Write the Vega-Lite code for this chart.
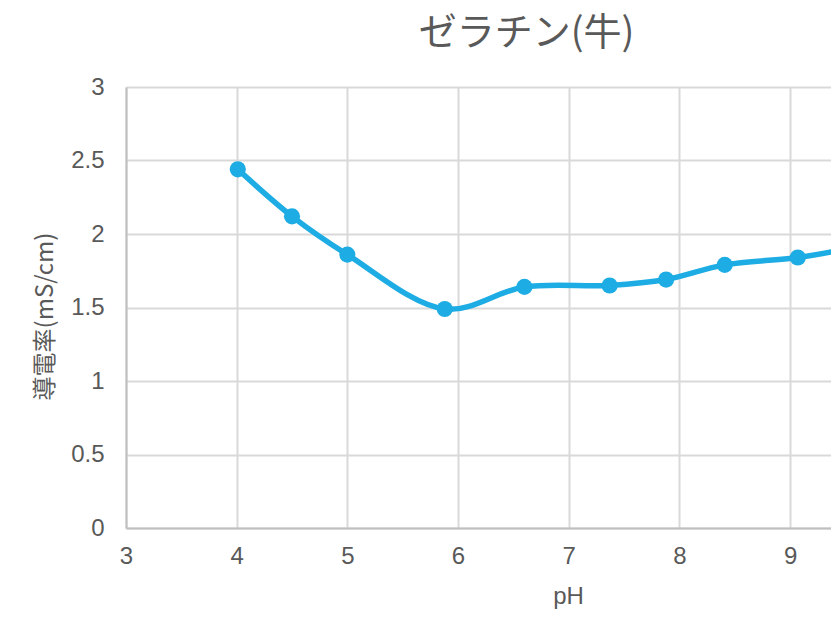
{
  "$schema": "https://vega.github.io/schema/vega-lite/v6.json",
  "width": 705,
  "height": 441,
  "autosize": "none",
  "padding": {"left": 126, "top": 87, "right": 0, "bottom": 89},
  "background": "white",
  "title": {
    "text": "ゼラチン(牛)",
    "font": "Noto Sans CJK JP",
    "fontSize": 38,
    "fontWeight": "normal",
    "color": "#595959",
    "anchor": "middle",
    "dx": 48,
    "offset": 22
  },
  "config": {
    "view": {"stroke": null}
  },
  "data": {
    "values": [
      {"pH": 4.01, "c": 2.44},
      {"pH": 4.5, "c": 2.12},
      {"pH": 5.0, "c": 1.86},
      {"pH": 5.88, "c": 1.49},
      {"pH": 6.6, "c": 1.64},
      {"pH": 7.37, "c": 1.65},
      {"pH": 7.88, "c": 1.69},
      {"pH": 8.41, "c": 1.79},
      {"pH": 9.07, "c": 1.84},
      {"pH": 9.6, "c": 1.91}
    ]
  },
  "encoding": {
    "x": {
      "field": "pH",
      "type": "quantitative",
      "scale": {"domain": [3, 9.37], "nice": false, "zero": false},
      "axis": {
        "title": "pH",
        "values": [3, 4, 5, 6, 7, 8, 9],
        "format": "~g",
        "labelFont": "Liberation Sans",
        "labelFontSize": 24,
        "labelColor": "#595959",
        "labelPadding": 16,
        "labelFlush": false,
        "labelOverlap": false,
        "titleFont": "Liberation Sans",
        "titleFontSize": 24,
        "titleFontWeight": "normal",
        "titleColor": "#595959",
        "gridColor": "#d9d9d9",
        "gridWidth": 2,
        "domainColor": "#bfbfbf",
        "domainWidth": 2,
        "ticks": false,
        "titleX": 442,
        "titleY": 68,
        "titleAlign": "center",
        "titleBaseline": "middle"
      }
    },
    "y": {
      "field": "c",
      "type": "quantitative",
      "scale": {"domain": [0, 3], "nice": false},
      "axis": {
        "title": "導電率(mS/cm)",
        "values": [0, 0.5, 1, 1.5, 2, 2.5, 3],
        "format": "~g",
        "labelFont": "Liberation Sans",
        "labelFontSize": 24,
        "labelColor": "#595959",
        "labelPadding": 22,
        "labelFlush": false,
        "labelOverlap": false,
        "titleFont": "Noto Sans CJK JP",
        "titleFontSize": 24,
        "titleFontWeight": "normal",
        "titleColor": "#595959",
        "titleX": -81,
        "titleY": 229,
        "titleAlign": "center",
        "titleBaseline": "middle",
        "titleAngle": -90,
        "gridColor": "#d9d9d9",
        "gridWidth": 2,
        "domainColor": "#bfbfbf",
        "domainWidth": 2,
        "ticks": false
      }
    }
  },
  "layer": [
    {
      "mark": {"type": "line", "interpolate": "catmull-rom", "color": "#1DACE3", "strokeWidth": 5.5, "clip": true}
    },
    {
      "mark": {"type": "circle", "color": "#1DACE3", "size": 260, "opacity": 1, "clip": true}
    }
  ]
}
